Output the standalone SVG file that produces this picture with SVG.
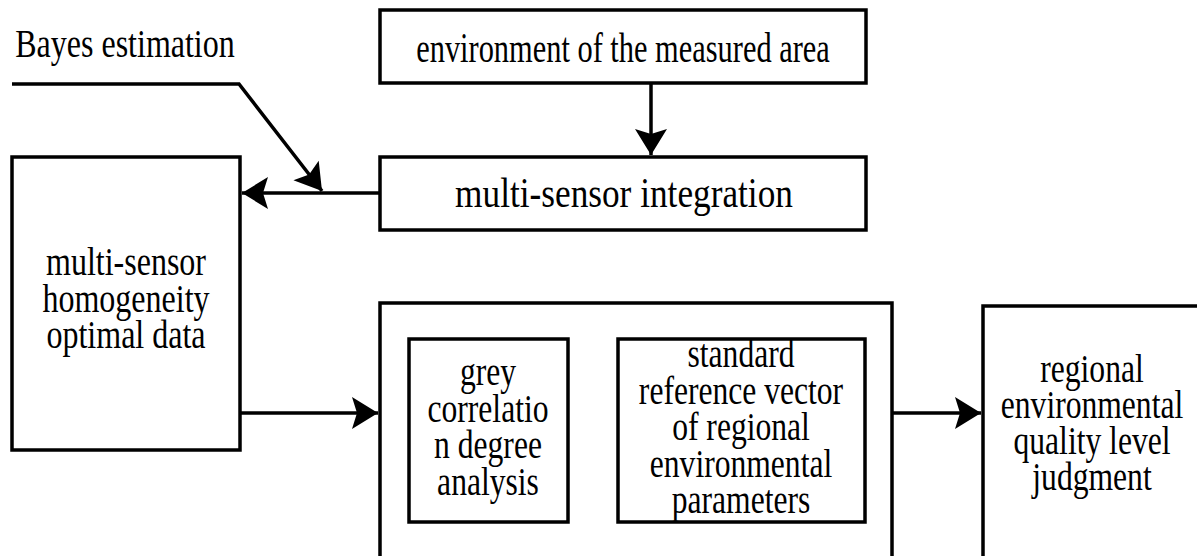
<svg xmlns="http://www.w3.org/2000/svg" width="1197" height="556" viewBox="0 0 1197 556">
  <style>
    .box { fill: #fff; stroke: #000; stroke-width: 3.5; }
    .wire { fill: none; stroke: #000; stroke-width: 3.5; }
    .lbl { font-family: "Liberation Serif", "Times New Roman", serif; font-size: 40px; fill: #000; text-anchor: middle; }
    .big { font-size: 42px; }
  </style>
  <defs>
    <marker id="arrow" markerUnits="userSpaceOnUse" markerWidth="30" markerHeight="36" viewBox="-28 -18 30 36" refX="0" refY="0" orient="auto">
      <path d="M0,0 L-26,-16 L-21,0 L-26,16 Z" fill="#000"/>
    </marker>
  </defs>
  <rect width="1197" height="556" fill="#fff"/>

  <g id="connectors">
    <!-- environment down to integration -->
    <path class="wire" d="M651,83 V155" marker-end="url(#arrow)"/>
    <!-- integration to homogeneity box -->
    <path class="wire" d="M380,193 H242" marker-end="url(#arrow)"/>
    <!-- Bayes estimation feed -->
    <path class="wire" d="M12,84 H239 L322,191" marker-end="url(#arrow)"/>
    <!-- homogeneity data into processing block -->
    <path class="wire" d="M240,413 H378" marker-end="url(#arrow)"/>
    <!-- grey correlation to reference vector -->
    <path class="wire" d="M568,413 H616" marker-end="url(#arrow)"/>
    <!-- reference vector to judgment -->
    <path class="wire" d="M865,413 H981" marker-end="url(#arrow)"/>
  </g>

  <g id="bayes-label">
    <g transform="translate(125,0) scale(0.8,1)">
      <text class="lbl" x="0" y="57">Bayes estimation</text>
    </g>
  </g>

  <g id="environment">
    <rect class="box" x="380" y="10" width="486" height="73"/>
    <g transform="translate(623,0) scale(0.724,1)">
      <text class="lbl big" x="0" y="62">environment of the measured area</text>
    </g>
  </g>

  <g id="integration">
    <rect class="box" x="380" y="157" width="486" height="73"/>
    <g transform="translate(624,0) scale(0.84,1)">
      <text class="lbl big" x="0" y="207">multi-sensor integration</text>
    </g>
  </g>

  <g id="homogeneity">
    <rect class="box" x="12" y="157" width="228" height="293"/>
    <g transform="translate(126,0) scale(0.8,1)">
      <text class="lbl" x="0" y="275">multi-sensor</text>
      <text class="lbl" x="0" y="312">homogeneity</text>
      <text class="lbl" x="0" y="348">optimal data</text>
    </g>
  </g>

  <g id="processing">
    <rect class="box" x="380" y="303" width="512" height="280"/>
  </g>

  <g id="grey-correlation">
    <rect class="box" x="409" y="339" width="159" height="183"/>
    <g transform="translate(488,0) scale(0.79,1)">
      <text class="lbl" x="0" y="385">grey</text>
      <text class="lbl" x="0" y="422">correlatio</text>
      <text class="lbl" x="0" y="458">n degree</text>
      <text class="lbl" x="0" y="495">analysis</text>
    </g>
  </g>

  <g id="reference-vector">
    <rect class="box" x="618" y="339" width="247" height="183"/>
    <g transform="translate(741,0) scale(0.79,1)">
      <text class="lbl" x="0" y="367">standard</text>
      <text class="lbl" x="0" y="404">reference vector</text>
      <text class="lbl" x="0" y="440">of regional</text>
      <text class="lbl" x="0" y="477">environmental</text>
      <text class="lbl" x="0" y="513">parameters</text>
    </g>
  </g>

  <g id="judgment">
    <rect class="box" x="983" y="306" width="260" height="280"/>
    <g transform="translate(1092,0) scale(0.79,1)">
      <text class="lbl" x="0" y="382">regional</text>
      <text class="lbl" x="0" y="418">environmental</text>
      <text class="lbl" x="0" y="454">quality level</text>
      <text class="lbl" x="0" y="490">judgment</text>
    </g>
  </g>
</svg>
